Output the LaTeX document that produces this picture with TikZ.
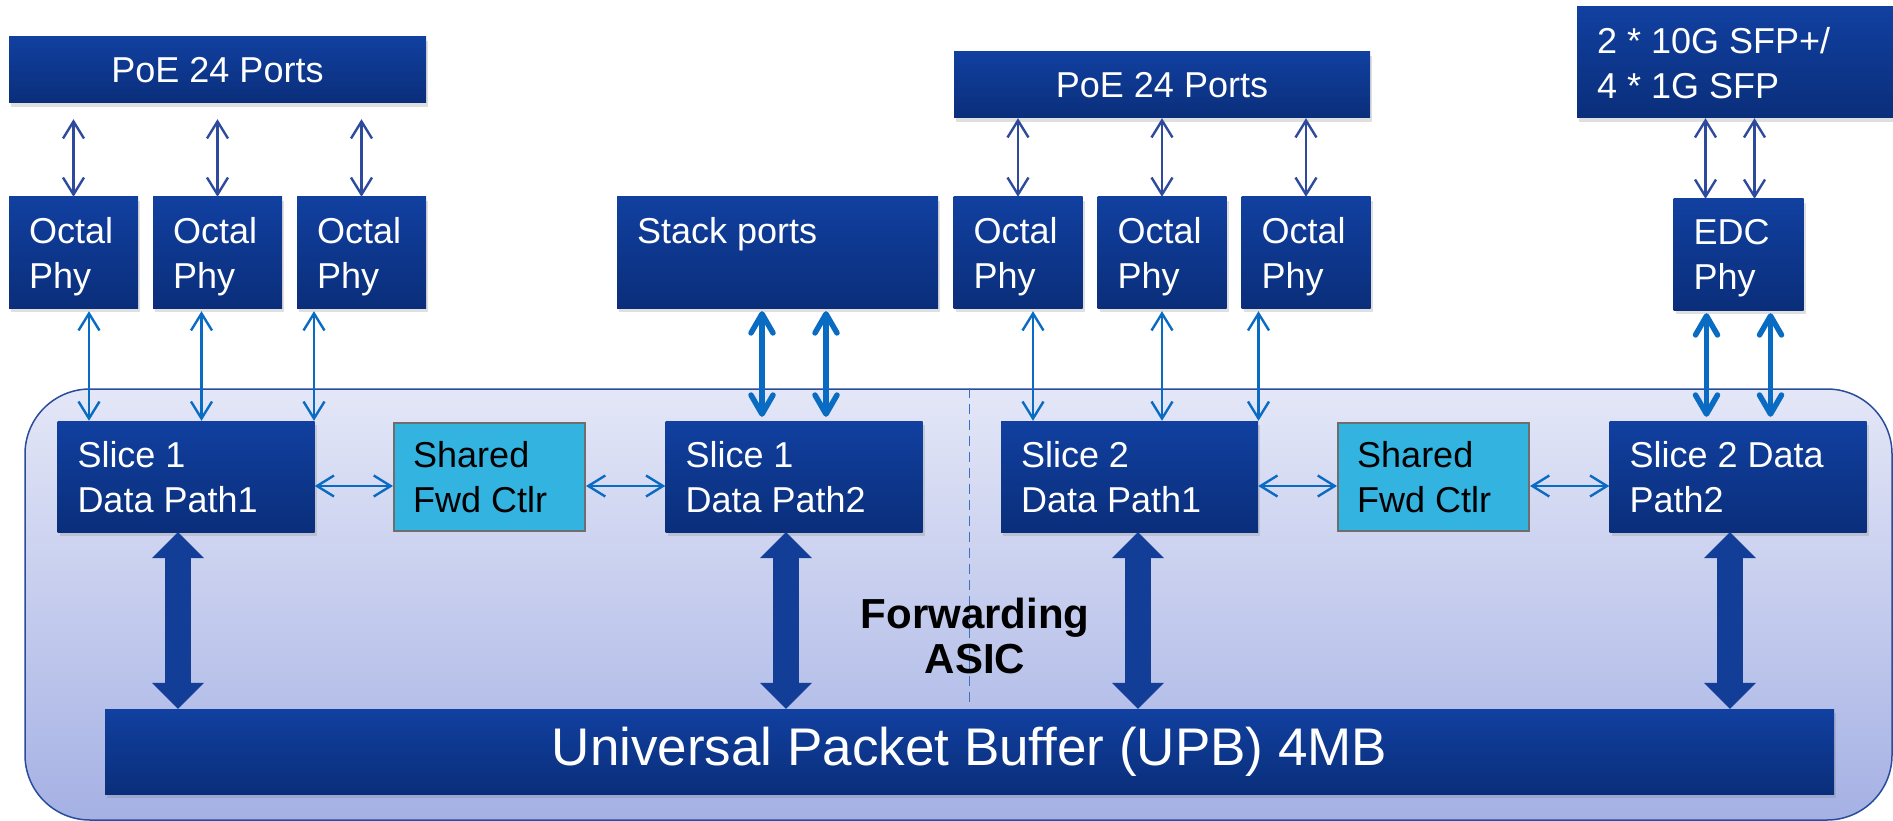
\documentclass[tikz,border=0pt]{standalone}
\usepackage{fontspec}
\setmainfont{Liberation Sans}
\usepackage{xcolor}
\usetikzlibrary{arrows.meta, positioning, shadows}

\definecolor{boxtop}{HTML}{1140A0}
\definecolor{boxbot}{HTML}{0A2E7A}
\definecolor{fwdcyan}{HTML}{33B3DF}
\definecolor{fwdgray}{HTML}{6E6E6E}
\definecolor{asictop}{HTML}{E4E7F7}
\definecolor{asicbot}{HTML}{A5B1E4}
\definecolor{asicline}{HTML}{2A4C9C}
\definecolor{linkblue}{HTML}{0A6BC3}
\definecolor{poeline}{HTML}{2E4A9C}
\definecolor{fatblue}{HTML}{123E98}
\definecolor{dashblue}{HTML}{3B72C0}

\newcommand{\boxfont}{\fontsize{36}{45}\selectfont}
\newcommand{\upbfont}{\fontsize{53}{62}\selectfont}
\newcommand{\asicfont}{\fontsize{42}{45}\selectfont\bfseries}

\begin{document}
\begin{tikzpicture}[x=1pt, y=1pt, node distance=144pt, on grid,
        blk/.style={top color=boxtop, bottom color=boxbot, inner sep=0pt,
            minimum height=111pt, text=white, font=\boxfont,
            drop shadow={opacity=0.25, shadow xshift=2pt, shadow yshift=-4pt}},
        phy/.style={blk, minimum width=129pt},
        slice/.style={blk, minimum width=257pt},
        fwd/.style={draw=fwdgray, line width=2pt, fill=fwdcyan, inner sep=0pt,
            minimum width=191pt, minimum height=108pt},
        txt/.style={anchor=north west, inner sep=20pt, align=left,
            text=white, font=\boxfont},
        link/.style={color=linkblue, line width=2.4pt,
            >={Straight Barb[length=17pt,width=21pt]}, <->},
        plink/.style={link, color=poeline},
        trunk/.style={color=linkblue, line width=5.5pt, line cap=round,
            >={Straight Barb[length=19pt,width=22pt,round]}, <->},
        fat/.style={color=fatblue, line width=26pt,
            >={Triangle[length=26pt,width=52pt,line width=0pt]}, <->},
        divider/.style={draw=dashblue, line width=1.5pt, dash pattern=on 10pt off 6pt}]
    \useasboundingbox (0,0) rectangle (1893,-821);

    % the chip
    \node[draw=asicline, line width=1.5pt, rounded corners=65pt,
        top color=asictop, bottom color=asicbot,
        minimum width=1867pt, minimum height=431pt] (asic) at (958.5,-604.5) {};
    \node[blk, minimum width=1729pt, minimum height=85pt, font=\upbfont]
        (upb) at (969.5,-751.5) {Universal Packet Buffer (UPB) 4MB};
    \draw[divider, shorten >=6pt] (asic.north -| upb.north) -- (upb.north);
    \node[align=center, font=\asicfont] (asicLbl) at (975,-636) {Forwarding\\ASIC};

    % slices
    \node[slice, label={[txt]north west:{Slice 1\\Data Path1}}] (s1a) at (186,-476.5) {};
    \node[fwd, right=303.5pt of s1a, label={[txt, text=black]north west:{Shared\\Fwd Ctlr}}] (fwd1) {};
    \node[slice, right=304.5pt of fwd1, label={[txt]north west:{Slice 1\\Data Path2}}] (s1b) {};
    \node[slice, label={[txt]north west:{Slice 2\\Data Path1}}] (s2a) at (1129.5,-476.5) {};
    \node[fwd, right=304pt of s2a, label={[txt, text=black]north west:{Shared\\Fwd Ctlr}}] (fwd2) {};
    \node[slice, right=304.5pt of fwd2, label={[txt]north west:{Slice 2 Data\\Path2}}] (s2b) {};

    % phys and ports
    \node[phy, label={[txt]north west:{Octal\\Phy}}] (octA1) at (73.5,-252.5) {};
    \node[phy, right=of octA1, label={[txt]north west:{Octal\\Phy}}] (octA2) {};
    \node[phy, right=of octA2, label={[txt]north west:{Octal\\Phy}}] (octA3) {};
    \node[blk, minimum width=417pt, minimum height=66pt] (poeA) at (217.5,-70) {PoE 24 Ports};
    \node[blk, minimum width=321pt, label={[txt]north west:{Stack ports}}] (stack) at (777.5,-252.5) {};
    \node[phy, label={[txt]north west:{Octal\\Phy}}] (octB1) at (1018,-252.5) {};
    \node[phy, right=of octB1, label={[txt]north west:{Octal\\Phy}}] (octB2) {};
    \node[phy, right=of octB2, label={[txt]north west:{Octal\\Phy}}] (octB3) {};
    \node[blk, minimum width=416pt, minimum height=66pt] (poeB) at (1162,-85) {PoE 24 Ports};
    \node[blk, minimum width=323pt, label={[txt]north west:{2 * 10G SFP+/\\4 * 1G SFP}}] (sfp) at (1738.5,-62.5) {};
    \node[phy, minimum width=130pt, below=192pt of sfp, label={[txt]north west:{EDC\\Phy}}] (edc) {};

    % ports to phys
    \path[plink] (octA1.north) edge[shorten >=16pt] (octA1.north |- poeA.south)
        (octA2.north) edge[shorten >=16pt] (octA2.north |- poeA.south)
        (octA3.north) edge[shorten >=16pt] (octA3.north |- poeA.south)
        (octB1.north) edge (octB1.north |- poeB.south)
        (octB2.north) edge (octB2.north |- poeB.south)
        (octB3.north) edge (octB3.north |- poeB.south);
    \draw[plink, transform canvas={xshift=-33pt}] (edc.north) -- (edc.north |- sfp.south);
    \draw[plink, transform canvas={xshift=16pt}] (edc.north) -- (edc.north |- sfp.south);

    % phys to slices
    \draw[link, shorten <=3pt, transform canvas={xshift=15.5pt}] (octA1.south) -- (octA1.south |- s1a.north);
    \draw[link, shorten <=3pt, transform canvas={xshift=-16pt}] (octA2.south) -- (octA2.south |- s1a.north);
    \draw[link, shorten <=3pt, transform canvas={xshift=-47.5pt}] (octA3.south) -- (octA3.south |- s1a.north);
    \draw[link, shorten <=3pt, transform canvas={xshift=15pt}] (octB1.south) -- (octB1.south |- s2a.north);
    \draw[link, shorten <=3pt] (octB2.south) -- (octB2.south |- s2a.north);
    \draw[link, shorten <=3pt, transform canvas={xshift=-47.5pt}] (octB3.south) -- (octB3.south |- s2a.north);
    \draw[trunk, shorten <=3pt, shorten >=4pt, transform canvas={xshift=-15.5pt}] (stack.south) -- (stack.south |- s1b.north);
    \draw[trunk, shorten <=3pt, shorten >=4pt, transform canvas={xshift=48.5pt}] (stack.south) -- (stack.south |- s1b.north);
    \draw[trunk, shorten <=3pt, shorten >=4pt, transform canvas={xshift=-32pt}] (edc.south) -- (edc.south |- s2b.north);
    \draw[trunk, shorten <=3pt, shorten >=4pt, transform canvas={xshift=32pt}] (edc.south) -- (edc.south |- s2b.north);

    % slices to forwarding control
    \path[link, transform canvas={yshift=-9.5pt}] (s1a.east) edge (fwd1.west)
        (fwd1.east) edge (s1b.west)
        (s2a.east) edge (fwd2.west)
        (fwd2.east) edge (s2b.west);

    % slices to buffer
    \draw[fat, transform canvas={xshift=-8pt}] (s1a.south) -- (s1a.south |- upb.north);
    \draw[fat, transform canvas={xshift=-8pt}] (s1b.south) -- (s1b.south |- upb.north);
    \draw[fat, transform canvas={xshift=8.5pt}] (s2a.south) -- (s2a.south |- upb.north);
    \draw[fat, transform canvas={xshift=-8pt}] (s2b.south) -- (s2b.south |- upb.north);
\end{tikzpicture}
\end{document}
